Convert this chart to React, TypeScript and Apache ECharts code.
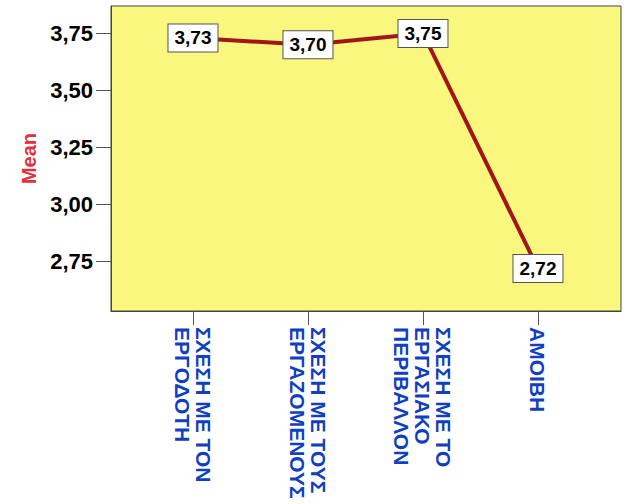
import React, { useEffect, useRef } from "react";
import * as echarts from "echarts";

const categories = [
  "ΣΧΕΣΗ ΜΕ ΤΟΝ\nΕΡΓΟΔΟΤΗ",
  "ΣΧΕΣΗ ΜΕ ΤΟΥΣ\nΕΡΓΑΖΟΜΕΝΟΥΣ",
  "ΣΧΕΣΗ ΜΕ ΤΟ\nΕΡΓΑΣΙΑΚΟ\nΠΕΡΙΒΑΛΛΟΝ",
  "ΑΜΟΙΒΗ",
];
const meanValues = [3.73, 3.7, 3.75, 2.72];
const yTicks = [2.75, 3.0, 3.25, 3.5, 3.75];
const xTicks = [0, 1, 2, 3];

const fmt = (v: number) => v.toFixed(2).replace(".", ",");

export default function App() {
  const ref = useRef<HTMLDivElement>(null);
  useEffect(() => {
    document.body.style.margin = "0";
    const chart = echarts.init(ref.current!, null, { renderer: "svg" });
    const font = "Arial, 'Liberation Sans', sans-serif";
    chart.setOption({
      animation: false,
      grid: {
        left: 111,
        right: 8,
        top: 6,
        bottom: 193,
        show: true,
        backgroundColor: "#F9F77D",
        borderColor: "#444444",
        borderWidth: 1,
      },
      xAxis: {
        type: "value",
        min: -0.713,
        max: 3.722,
        splitLine: { show: false },
        axisLine: { show: true, onZero: false, lineStyle: { color: "#444444", width: 1 } },
        axisTick: {
          show: true,
          customValues: xTicks,
          length: 14,
          lineStyle: { color: "#555555" },
        },
        axisLabel: {
          customValues: xTicks,
          rotate: -90,
          margin: 16,
          color: "#1040C0",
          fontFamily: font,
          fontWeight: "bold",
          fontSize: 21,
          lineHeight: 21,
          formatter: (v: number) => categories[Math.round(v)] ?? "",
        },
      },
      yAxis: {
        type: "value",
        min: 2.534,
        max: 3.87,
        name: "Mean",
        nameLocation: "middle",
        nameRotate: 90,
        nameGap: 72,
        nameTextStyle: {
          color: "#E0313C",
          fontFamily: font,
          fontWeight: "bold",
          fontSize: 20,
        },
        splitLine: { show: false },
        axisLine: { show: true, onZero: false, lineStyle: { color: "#444444", width: 1 } },
        axisTick: {
          show: true,
          customValues: yTicks,
          length: 15,
          lineStyle: { color: "#555555" },
        },
        axisLabel: {
          customValues: yTicks,
          margin: 18,
          color: "#000000",
          fontFamily: font,
          fontWeight: "bold",
          fontSize: 22,
          formatter: (v: number) => fmt(v),
        },
      },
      series: [
        {
          type: "line",
          data: meanValues.map((v, i) => [i, v]),
          symbol: "circle",
          symbolSize: 2,
          itemStyle: { color: "rgba(0,0,0,0)" },
          lineStyle: { color: "#A0161C", width: 4 },
          label: {
            show: true,
            position: "inside",
            formatter: (p: any) => fmt(p.value[1]),
            color: "#000000",
            fontFamily: font,
            fontWeight: "bold",
            fontSize: 19,
            backgroundColor: "#FFFFFF",
            borderColor: "#555555",
            borderWidth: 1,
            padding: [4, 6, 4, 6],
          },
        },
      ],
    });
    return () => chart.dispose();
  }, []);
  return <div ref={ref} style={{ width: 629, height: 504 }} />;
}
